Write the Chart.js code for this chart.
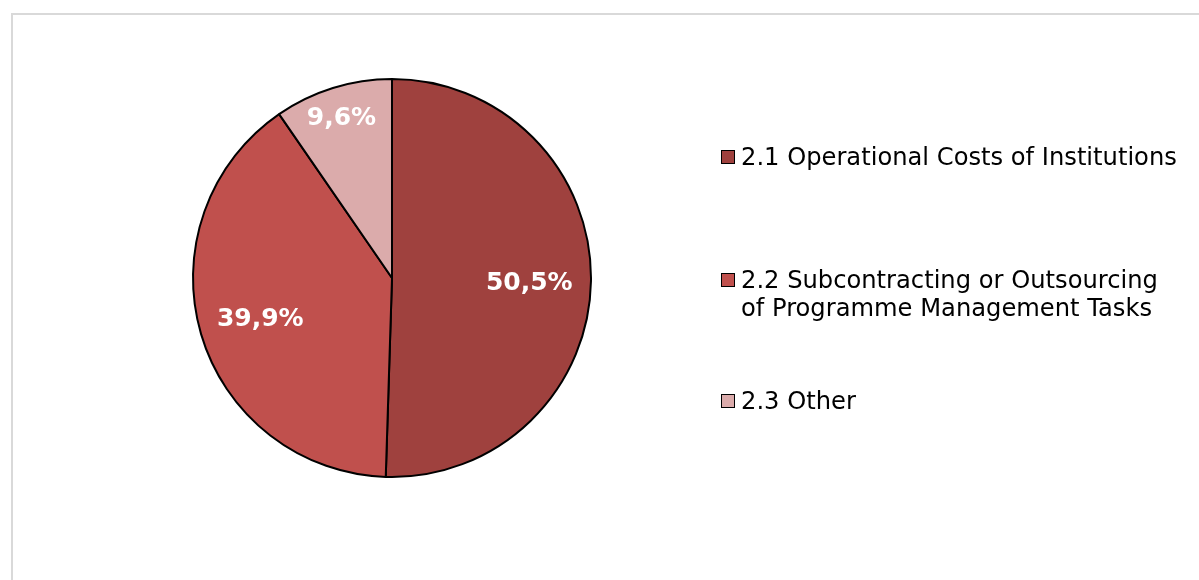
<!DOCTYPE html>
<html lang="en">
<head>
    <meta charset="UTF-8">
    <title>Programme management costs</title>
    <script src="https://cdn.jsdelivr.net/npm/chart.js@4.4.0/dist/chart.umd.min.js"></script>
    <style>
        html, body {
            margin: 0;
            padding: 0;
            background: #ffffff;
            overflow: hidden;
        }
        .frame {
            position: absolute;
            left: 11px;
            top: 13px;
            width: 1200px;
            height: 600px;
            border-left: 2px solid #d9d9d9;
            border-top: 2px solid #d9d9d9;
        }
        .chart-container {
            position: absolute;
            left: 0;
            top: 0;
            width: 1199px;
            height: 580px;
        }
        #legend {
            position: absolute;
            left: 721px;
            top: 0;
            font-family: "DejaVu Sans", Verdana, sans-serif;
            font-size: 24.2px;
            color: #000000;
        }
        #legend .item {
            position: absolute;
            left: 0;
            white-space: nowrap;
            line-height: 28px;
        }
        #legend .box {
            position: absolute;
            left: 0;
            top: 7px;
            width: 12px;
            height: 12px;
            border: 1.5px solid #000000;
        }
        #legend .text {
            margin-left: 20px;
        }
    </style>
</head>
<body>
<div class="frame"></div>
<div class="chart-container">
    <canvas id="myChart" width="1199" height="580"></canvas>
</div>
<div id="legend"></div>

<script>
    // cost categories and their shares (%)
    const categories = [
        "2.1 Operational Costs of Institutions",
        "2.2 Subcontracting or Outsourcing\nof Programme Management Tasks",
        "2.3 Other"
    ];
    const shares = [50.5, 39.9, 9.6];
    const sliceColors = ["#9f413e", "#c0504d", "#dbabab"];

    // label distance from centre as fraction of the radius
    const labelRadius = [0.69, 0.69, 0.855];
    // legend rows (top of first text line)
    const legendTops = [143, 266, 387];

    const sliceLabels = {
        id: 'sliceLabels',
        afterDatasetsDraw(chart) {
            const ctx = chart.ctx;
            const meta = chart.getDatasetMeta(0);
            ctx.save();
            ctx.font = "bold 25px 'DejaVu Sans', Verdana, sans-serif";
            ctx.fillStyle = "#ffffff";
            ctx.textAlign = "center";
            ctx.textBaseline = "middle";
            meta.data.forEach(function (arc, i) {
                const mid = (arc.startAngle + arc.endAngle) / 2;
                const r = arc.outerRadius * labelRadius[i];
                const x = arc.x + Math.cos(mid) * r;
                const y = arc.y + Math.sin(mid) * r + 3;
                ctx.fillText(shares[i].toFixed(1).replace('.', ',') + '%', x, y);
            });
            ctx.restore();
        }
    };

    const ctx = document.getElementById('myChart');
    const myChart = new Chart(ctx, {
        type: 'pie',
        data: {
            labels: categories,
            datasets: [{
                data: shares,
                backgroundColor: sliceColors,
                borderColor: "#000000",
                borderWidth: 2,
                hoverOffset: 0
            }]
        },
        options: {
            responsive: false,
            animation: false,
            layout: {
                padding: { left: 192, right: 607, top: 78, bottom: 102 }
            },
            plugins: {
                legend: { display: false },
                tooltip: { enabled: false }
            }
        },
        plugins: [sliceLabels]
    });

    // legend built from the same arrays
    const legend = document.getElementById('legend');
    categories.forEach(function (name, i) {
        const item = document.createElement('div');
        item.className = 'item';
        item.style.top = legendTops[i] + 'px';
        const box = document.createElement('span');
        box.className = 'box';
        box.style.background = sliceColors[i];
        item.appendChild(box);
        name.split('\n').forEach(function (line) {
            const t = document.createElement('div');
            t.className = 'text';
            t.textContent = line;
            item.appendChild(t);
        });
        legend.appendChild(item);
    });
</script>
</body>
</html>
